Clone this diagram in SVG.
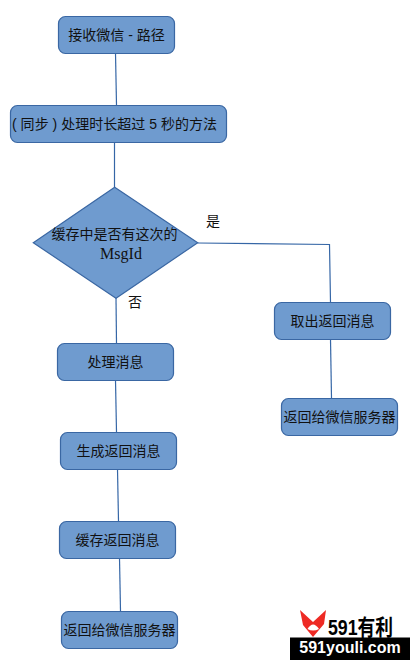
<svg xmlns="http://www.w3.org/2000/svg" width="410" height="661" viewBox="0 0 410 661">
<style>
.n{fill:#6f9bcf;stroke:#3a67a3;stroke-width:1.2}
.c{fill:none;stroke:#3566a6;stroke-width:1.2}
text{font-family:"Liberation Sans","Noto Sans CJK SC",sans-serif;font-size:14px;fill:#111;text-anchor:middle}
.s{font-family:"Liberation Serif","Noto Sans CJK SC",serif}
</style>
<rect width="410" height="661" fill="#fff"/>
<g id="connectors">
<path class="c" d="M115.5 53L116.5 105"/>
<path class="c" d="M114.5 142V187"/>
<path class="c" d="M116 298L116.5 343"/>
<path class="c" d="M115.5 380L116.5 432"/>
<path class="c" d="M117.5 469L118.5 521"/>
<path class="c" d="M119.5 558L120.5 611"/>
<path class="c" d="M197.5 243L329.5 244.5L330.5 302"/>
<path class="c" d="M330.5 339L331.5 398"/>
</g>
<g id="n1"><rect class="n" x="58.5" y="16.5" width="116" height="37" rx="7"/><text x="116.5" y="39.5">接收微信 - 路径</text></g>
<g id="n2"><rect class="n" x="10.5" y="105.5" width="216" height="37" rx="7"/><text x="114.5" y="129" textLength="205" lengthAdjust="spacing">( 同步 ) 处理时长超过 5 秒的方法</text></g>
<g id="n3"><path class="n" d="M114.7 187.3L197.7 242.7L116 298.3L33.3 242.7Z"/><text class="s" x="114.5" y="239">缓存中是否有这次的</text><text class="s" x="121" y="259" style="font-size:16px">MsgId</text></g>
<g id="n4"><rect class="n" x="57.5" y="343.5" width="116" height="37" rx="7"/><text x="115.5" y="367">处理消息</text></g>
<g id="n5"><rect class="n" x="60.5" y="432.5" width="116" height="37" rx="7"/><text x="118.5" y="456">生成返回消息</text></g>
<g id="n6"><rect class="n" x="59.5" y="521.5" width="116" height="37" rx="7"/><text x="117.5" y="545">缓存返回消息</text></g>
<g id="n7"><rect class="n" x="61.5" y="611.5" width="116" height="37" rx="7"/><text x="119.5" y="635">返回给微信服务器</text></g>
<g id="n8"><rect class="n" x="274.5" y="302.5" width="116" height="37" rx="7"/><text x="332.5" y="326">取出返回消息</text></g>
<g id="n9"><rect class="n" x="281.5" y="398.5" width="116" height="37" rx="7"/><text x="339.5" y="422">返回给微信服务器</text></g>
<text x="213" y="226">是</text>
<text x="135" y="307">否</text>
<g id="watermark">
<path d="M300 610L313 622L326 610L324 624L313 637L303 625Z" fill="#ee2a24"/>
<path d="M307.500 629Q313 620 319 629Q313 632 307.500 629Z" fill="#fff"/>
<text x="360.500" y="635" style="font-size:22px;font-weight:bold;fill:#000" textLength="65" lengthAdjust="spacingAndGlyphs">591有利</text>
<rect x="290" y="637.500" width="120" height="22.500" fill="#000"/>
<text x="350" y="652.500" style="font-size:16px;font-weight:bold;fill:#fff">591youli.com</text>
</g>
</svg>
